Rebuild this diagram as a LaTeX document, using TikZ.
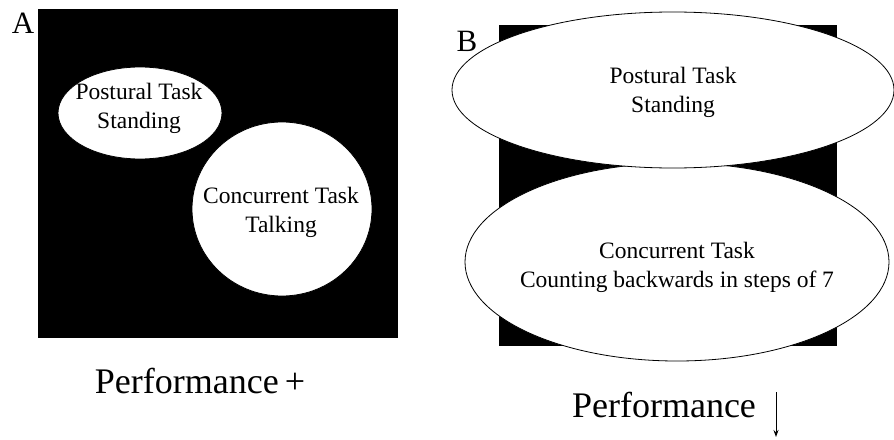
\documentclass[tikz,border=0pt]{standalone}
\usepackage{fontspec}
\setmainfont{Liberation Serif}
\usetikzlibrary{shapes.geometric,arrows.meta}
\tikzset{
  panel/.style={fill=black,draw=black},
  blob/.style={ellipse,fill=white,draw=black,line width=0.8pt,inner sep=0pt},
  txt/.style={align=center,font=\fontsize{23.5}{29}\selectfont,inner sep=0pt},
  big/.style={font=\fontsize{36}{40}\selectfont,inner sep=0pt,anchor=base},
  letter/.style={font=\fontsize{31}{34}\selectfont,inner sep=0pt,anchor=base},
}
\begin{document}
\begin{tikzpicture}[x=1pt,y=-1pt]
\useasboundingbox (0,0) rectangle (894,439);
% Panel A
\fill[panel] (38,9) rectangle (397,337);
\node[letter] (la) at (23,33) {A};
\node[blob,minimum width=164pt,minimum height=92pt] (pa) at (140,113) {};
\node[blob,minimum width=180pt,minimum height=174pt] (ca) at (282,209) {};
\node[txt] (tpa) at (139,108) {Postural Task\\Standing};
\node[txt] (tca) at (281,212) {Concurrent Task\\Talking};
\node[big] (perfa) at (200,393) {Performance\,+};
% Panel B
\fill[panel] (499,25) rectangle (836,345);
\node[blob,minimum width=424pt,minimum height=198pt] (cb) at (677,262) {};
\node[blob,minimum width=442pt,minimum height=156pt] (pb) at (673,90) {};
\node[letter] (lb) at (467,51) {B};
\node[txt] (tpb) at (673,92) {Postural Task\\Standing};
\node[txt] (tcb) at (677,267) {Concurrent Task\\Counting backwards in steps of 7};
\node[big] (perfb) at (664,417) {Performance};
\coordinate (arrtop) at (776,392);
\coordinate (arrbot) at (776,437);
\draw[line width=1pt,-{Stealth[length=7pt,width=5pt]}] (arrtop) -- (arrbot);
\end{tikzpicture}
\end{document}
